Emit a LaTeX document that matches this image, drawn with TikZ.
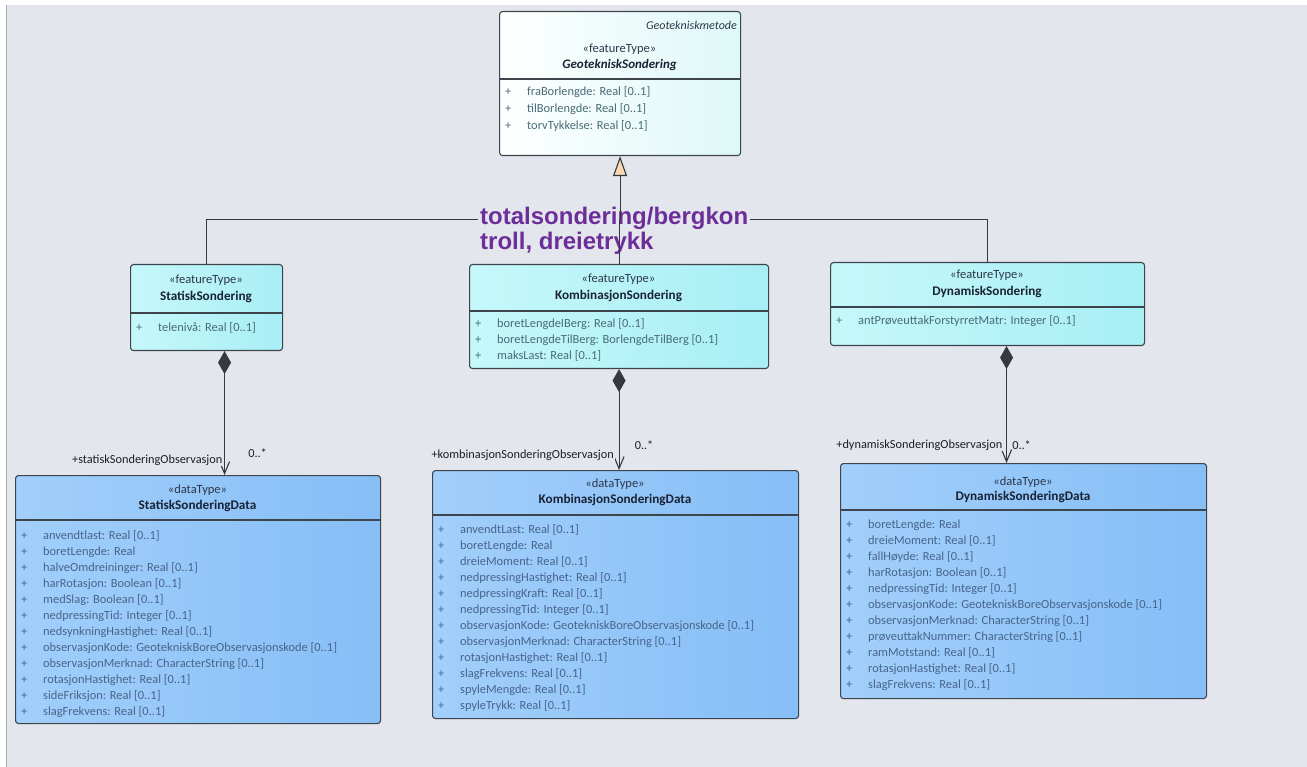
\documentclass[tikz,border=0pt]{standalone}
\usepackage{fontspec}
\setmainfont{Carlito}
\newfontfamily\labelfont{Liberation Sans}
\usetikzlibrary{arrows.meta,positioning}

\definecolor{bgcol}{RGB}{228,230,237}
\definecolor{framecol}{RGB}{168,170,176}
\definecolor{boxline}{RGB}{62,68,76}
\definecolor{topfill}{RGB}{222,248,248}
\definecolor{featfillA}{RGB}{198,248,251}
\definecolor{featfillB}{RGB}{168,238,245}
\definecolor{datafillA}{RGB}{162,207,251}
\definecolor{datafillB}{RGB}{134,190,246}
\definecolor{namecol}{RGB}{25,35,52}
\definecolor{stereocol}{RGB}{45,55,72}
\definecolor{featattr}{RGB}{72,108,118}
\definecolor{dataattr}{RGB}{72,100,138}
\definecolor{linecol}{RGB}{55,56,62}
\definecolor{genfill}{RGB}{250,216,178}
\definecolor{rolecol}{RGB}{30,30,36}
\definecolor{genpurple}{RGB}{108,46,152}

\newcommand{\umlplus}{\makebox[22pt][l]{+}}

\tikzset{
	umlbox/.style={draw=boxline, line width=1.1pt, rounded corners=3pt,
		anchor=north west, inner sep=0pt},
	topbox/.style={umlbox, left color=white, right color=topfill},
	featbox/.style={umlbox, left color=featfillA, right color=featfillB},
	databox/.style={umlbox, left color=datafillA, right color=datafillB},
	stereo/.style={font=\fontsize{12.5}{14}\selectfont, text=stereocol, inner sep=0pt},
	clsname/.style={font=\bfseries\fontsize{13.2}{15}\selectfont, text=namecol, inner sep=0pt},
	attrs/.style={anchor=north west, align=left, inner sep=0pt,
		font=\fontsize{12.4}{16}\selectfont, text=dataattr},
	divline/.style={draw=boxline, line width=1.1pt},
	conn/.style={draw=linecol, line width=1.1pt},
	gen/.style={conn, -{Triangle[length=20pt,width=14pt,fill=genfill]}},
	comp/.style={conn, {Diamond[length=23pt,width=13pt]}-{Straight Barb[length=12pt,width=10pt]}},
	rolelab/.style={font=\fontsize{12.3}{14}\selectfont, text=rolecol, fill=bgcol, inner sep=1pt},
	multlab/.style={font=\fontsize{12.3}{14}\selectfont, text=rolecol, inner sep=1pt},
	genlab/.style={anchor=north west, align=left, inner sep=2pt, fill=bgcol,
		font=\labelfont\bfseries\fontsize{24}{25}\selectfont, text=genpurple}
}

\begin{document}
\begin{tikzpicture}[x=1pt,y=-1pt]

	\useasboundingbox (0,0) rectangle (1307,767);
	\fill[bgcol] (7,5) rectangle (1307,767);
	\draw[framecol, line width=1pt] (6,5) -- (6,767);

	\node[topbox, minimum width=241pt, minimum height=144pt] (geo) at (499,11) {};
	\node[stereo, anchor=east, font=\itshape\fontsize{12}{14}\selectfont] (geoPkg) at (737,25) {Geotekniskmetode};
	\node[stereo] (geoStereo) at (619.5,49) {«featureType»};
	\node[clsname, font=\bfseries\itshape\fontsize{13}{15}\selectfont] (geoName) at (619.5,65) {GeotekniskSondering};
	\draw[divline] ([yshift=-68pt]geo.north west) -- ([yshift=-68pt]geo.north east);
	\node[attrs, text=featattr, font=\fontsize{12.4}{17}\selectfont] (geoAttr) at (505,86) {\umlplus fraBorlengde: Real [0..1]\\
		\umlplus tilBorlengde: Real [0..1]\\
		\umlplus torvTykkelse: Real [0..1]};

	\node[featbox, minimum width=152pt, minimum height=86pt] (statisk) at (130,264) {};
	\node[stereo] (statiskStereo) at (206,280) {«featureType»};
	\node[clsname] (statiskName) at (206,297) {StatiskSondering};
	\draw[divline] ([yshift=-49pt]statisk.north west) -- ([yshift=-49pt]statisk.north east);
	\node[attrs, text=featattr] (statiskAttr) at (136,322) {\umlplus telenivå: Real [0..1]};

	\node[featbox, minimum width=299pt, minimum height=104pt] (komb) at (469,264) {};
	\node[stereo] (kombStereo) at (618.5,279) {«featureType»};
	\node[clsname] (kombName) at (618.5,296) {KombinasjonSondering};
	\draw[divline] ([yshift=-47pt]komb.north west) -- ([yshift=-47pt]komb.north east);
	\node[attrs, text=featattr] (kombAttr) at (475,318) {\umlplus boretLengdeIBerg: Real [0..1]\\
		\umlplus boretLengdeTilBerg: BorlengdeTilBerg [0..1]\\
		\umlplus maksLast: Real [0..1]};

	\node[featbox, minimum width=314pt, minimum height=83pt] (dynamisk) at (830,262) {};
	\node[stereo] (dynamiskStereo) at (987,275) {«featureType»};
	\node[clsname] (dynamiskName) at (987,292) {DynamiskSondering};
	\draw[divline] ([yshift=-45pt]dynamisk.north west) -- ([yshift=-45pt]dynamisk.north east);
	\node[attrs, text=featattr] (dynamiskAttr) at (836,315) {\umlplus antPrøveuttakForstyrretMatr: Integer [0..1]};

	\node[databox, minimum width=365pt, minimum height=248pt] (statiskData) at (15,475) {};
	\node[stereo] (statiskDataStereo) at (197.5,490) {«dataType»};
	\node[clsname] (statiskDataName) at (197.5,506) {StatiskSonderingData};
	\draw[divline] ([yshift=-45pt]statiskData.north west) -- ([yshift=-45pt]statiskData.north east);
	\node[attrs] (statiskDataAttr) at (21,530) {\umlplus anvendtlast: Real [0..1]\\
		\umlplus boretLengde: Real\\
		\umlplus halveOmdreininger: Real [0..1]\\
		\umlplus harRotasjon: Boolean [0..1]\\
		\umlplus medSlag: Boolean [0..1]\\
		\umlplus nedpressingTid: Integer [0..1]\\
		\umlplus nedsynkningHastighet: Real [0..1]\\
		\umlplus observasjonKode: GeotekniskBoreObservasjonskode [0..1]\\
		\umlplus observasjonMerknad: CharacterString [0..1]\\
		\umlplus rotasjonHastighet: Real [0..1]\\
		\umlplus sideFriksjon: Real [0..1]\\
		\umlplus slagFrekvens: Real [0..1]};

	\node[databox, minimum width=366pt, minimum height=248pt] (kombData) at (432,470) {};
	\node[stereo] (kombDataStereo) at (615,484) {«dataType»};
	\node[clsname] (kombDataName) at (615,500) {KombinasjonSonderingData};
	\draw[divline] ([yshift=-45pt]kombData.north west) -- ([yshift=-45pt]kombData.north east);
	\node[attrs] (kombDataAttr) at (438,524) {\umlplus anvendtLast: Real [0..1]\\
		\umlplus boretLengde: Real\\
		\umlplus dreieMoment: Real [0..1]\\
		\umlplus nedpressingHastighet: Real [0..1]\\
		\umlplus nedpressingKraft: Real [0..1]\\
		\umlplus nedpressingTid: Integer [0..1]\\
		\umlplus observasjonKode: GeotekniskBoreObservasjonskode [0..1]\\
		\umlplus observasjonMerknad: CharacterString [0..1]\\
		\umlplus rotasjonHastighet: Real [0..1]\\
		\umlplus slagFrekvens: Real [0..1]\\
		\umlplus spyleMengde: Real [0..1]\\
		\umlplus spyleTrykk: Real [0..1]};

	\node[databox, minimum width=366pt, minimum height=235pt] (dynamiskData) at (840,463) {};
	\node[stereo] (dynamiskDataStereo) at (1023,482) {«dataType»};
	\node[clsname] (dynamiskDataName) at (1023,497) {DynamiskSonderingData};
	\draw[divline] ([yshift=-47pt]dynamiskData.north west) -- ([yshift=-47pt]dynamiskData.north east);
	\node[attrs] (dynamiskDataAttr) at (846,520) {\umlplus boretLengde: Real\\
		\umlplus dreieMoment: Real [0..1]\\
		\umlplus fallHøyde: Real [0..1]\\
		\umlplus harRotasjon: Boolean [0..1]\\
		\umlplus nedpressingTid: Integer [0..1]\\
		\umlplus observasjonKode: GeotekniskBoreObservasjonskode [0..1]\\
		\umlplus observasjonMerknad: CharacterString [0..1]\\
		\umlplus prøveuttakNummer: CharacterString [0..1]\\
		\umlplus ramMotstand: Real [0..1]\\
		\umlplus rotasjonHastighet: Real [0..1]\\
		\umlplus slagFrekvens: Real [0..1]};

	\coordinate (genjoin) at ([yshift=-63pt]geo.south);
	\draw[conn] (statisk.north) |- (genjoin);
	\draw[conn] (dynamisk.north) |- (genjoin);
	\node[genlab] (genLabel) at (478,205) {totalsondering/bergkon\\troll, dreietrykk};
	\draw[conn] (komb.north) -- (komb.north |- genjoin);
	\draw[gen] (genjoin) -- (geo.south);

	\coordinate (statiskFoot) at ([xshift=18pt]statisk.south);
	\coordinate (statiskHead) at (statiskFoot |- statiskData.north);
	\draw[comp] (statiskFoot) -- (statiskHead);
	\node[rolelab, anchor=east] (statiskRole) at ([xshift=-1pt,yshift=15pt]statiskHead) {+statiskSonderingObservasjon};
	\node[multlab] (statiskMult) at ([xshift=33pt,yshift=22pt]statiskHead) {0..*};

	\coordinate (kombFoot) at (komb.south);
	\coordinate (kombHead) at (kombFoot |- kombData.north);
	\draw[comp] (kombFoot) -- (kombHead);
	\node[rolelab, anchor=east] (kombRole) at ([xshift=-4pt,yshift=15pt]kombHead) {+kombinasjonSonderingObservasjon};
	\node[multlab] (kombMult) at ([xshift=25pt,yshift=25pt]kombHead) {0..*};

	\coordinate (dynamiskFoot) at ([xshift=19pt]dynamisk.south);
	\coordinate (dynamiskHead) at (dynamiskFoot |- dynamiskData.north);
	\draw[comp] (dynamiskFoot) -- (dynamiskHead);
	\node[rolelab, anchor=east] (dynamiskRole) at ([xshift=-3pt,yshift=18pt]dynamiskHead) {+dynamiskSonderingObservasjon};
	\node[multlab] (dynamiskMult) at ([xshift=15pt,yshift=18pt]dynamiskHead) {0..*};

\end{tikzpicture}
\end{document}
